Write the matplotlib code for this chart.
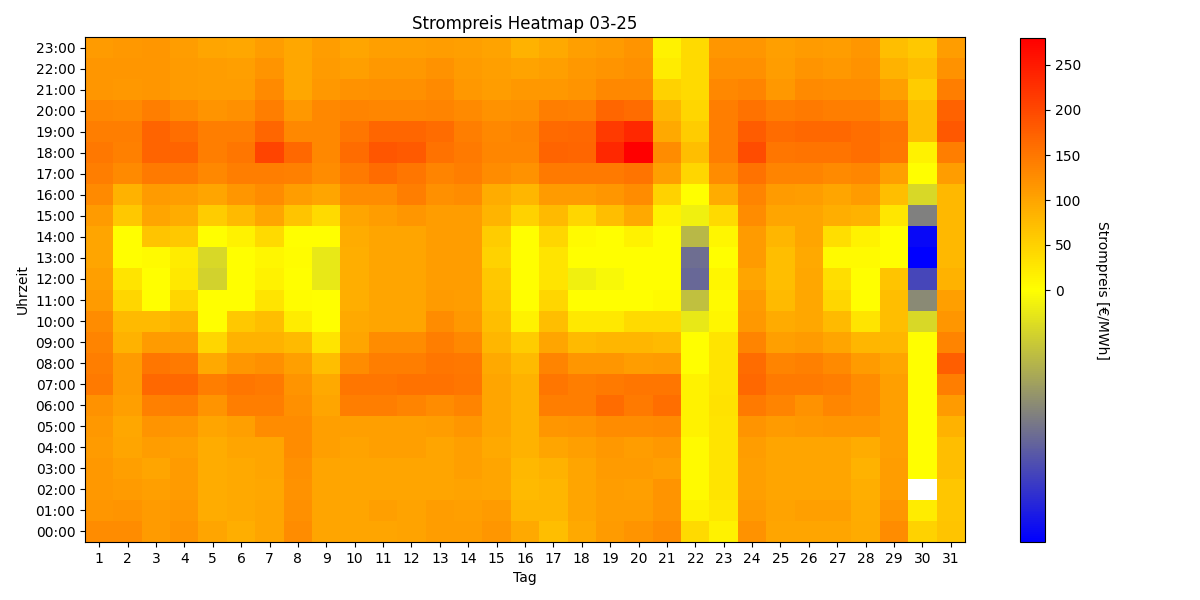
import numpy as np
import matplotlib
matplotlib.use("Agg")
import matplotlib.pyplot as plt
from matplotlib.colors import LinearSegmentedColormap, TwoSlopeNorm

nan = np.nan

# Strompreis [€/MWh] pro Stunde, Tage 1..31 (März 2025)
days = list(range(1, 32))
hours = [f"{h:02d}:00" for h in range(24)]

h00 = [125, 125, 110, 118, 100, 88, 100, 125, 100, 100, 100, 102, 108, 108, 115, 95, 70, 95, 110, 118, 125, 40, 15, 120, 100, 100, 100, 92, 125, 50, 65]
h01 = [115, 118, 110, 112, 90, 95, 100, 122, 100, 100, 105, 102, 108, 105, 110, 80, 80, 100, 108, 108, 118, 15, 25, 110, 102, 105, 105, 90, 115, 20, 62]
h02 = [112, 110, 107, 110, 90, 95, 98, 120, 100, 100, 100, 100, 100, 102, 100, 75, 80, 100, 108, 105, 118, 5, 30, 105, 100, 100, 100, 88, 108, nan, 62]
h03 = [112, 105, 100, 110, 90, 95, 100, 122, 100, 100, 100, 100, 100, 105, 100, 78, 85, 100, 110, 110, 105, 5, 30, 105, 100, 100, 100, 85, 108, 0, 70]
h04 = [110, 100, 108, 105, 90, 100, 100, 125, 105, 102, 105, 105, 100, 105, 95, 85, 100, 105, 112, 108, 112, 5, 30, 108, 100, 100, 100, 90, 105, 0, 70]
h05 = [112, 98, 118, 115, 100, 105, 125, 125, 105, 105, 105, 105, 108, 115, 100, 85, 115, 118, 125, 125, 128, 15, 30, 118, 110, 112, 115, 115, 105, 0, 85]
h06 = [120, 105, 138, 140, 118, 140, 140, 122, 100, 142, 142, 135, 125, 135, 100, 85, 140, 140, 160, 145, 158, 15, 32, 145, 135, 120, 132, 125, 105, 0, 110]
h07 = [145, 110, 165, 165, 140, 150, 145, 118, 95, 150, 150, 155, 155, 150, 100, 85, 150, 140, 145, 150, 150, 15, 30, 165, 145, 145, 140, 125, 105, 0, 142]
h08 = [140, 110, 150, 145, 95, 115, 122, 105, 70, 125, 140, 140, 150, 148, 95, 75, 135, 115, 115, 108, 110, 0, 30, 160, 135, 138, 128, 110, 100, 0, 175]
h09 = [135, 85, 110, 110, 45, 85, 85, 75, 30, 100, 125, 125, 140, 130, 80, 55, 100, 75, 80, 80, 75, 0, 30, 135, 105, 110, 100, 80, 80, 0, 135]
h10 = [125, 75, 75, 85, 0, 60, 70, 20, 2, 95, 100, 100, 125, 112, 70, 15, 70, 25, 25, 40, 40, -2.7, 10, 112, 92, 98, 75, 30, 70, -4.6, 115]
h11 = [110, 45, 2, 45, 0, 0, 30, 3, 0, 88, 100, 100, 110, 108, 65, 0, 45, 0, 0, 0, 5, -7.5, 5, 110, 75, 98, 45, 2, 70, -13.6, 105]
h12 = [105, 30, 2, 25, -5.2, 2, 15, 2, -2.7, 88, 100, 100, 108, 108, 60, 0, 30, -1.8, -0.9, 0, 0, -17.8, 10, 100, 72, 98, 35, 2, 65, -21.6, 85]
h13 = [100, 2, 5, 20, -4.6, 2, 10, 3, -2.7, 88, 100, 100, 108, 108, 50, 0, 30, 2, 2, 2, 0, -16.9, 0, 110, 70, 95, 5, 5, 2, -30, 78]
h14 = [100, 0, 65, 60, 0, 15, 40, 0, 0, 90, 100, 100, 108, 108, 55, 0, 45, 5, 2, 15, 0, -8.4, 10, 110, 80, 100, 35, 15, 0, -29, 78]
h15 = [110, 60, 100, 90, 55, 75, 100, 65, 40, 100, 108, 115, 108, 108, 82, 50, 75, 45, 70, 95, 15, -1.8, 40, 125, 100, 100, 88, 85, 28, -15, 78]
h16 = [128, 85, 110, 108, 100, 115, 125, 108, 100, 125, 125, 140, 122, 125, 90, 80, 110, 110, 115, 125, 50, 0, 90, 135, 110, 108, 100, 110, 70, -4.5, 78]
h17 = [140, 128, 145, 145, 130, 140, 140, 138, 125, 145, 160, 150, 135, 140, 125, 120, 145, 145, 145, 152, 105, 45, 125, 155, 135, 135, 128, 132, 105, 0, 108]
h18 = [148, 138, 170, 170, 140, 150, 205, 165, 130, 160, 185, 180, 155, 145, 132, 132, 170, 168, 235, 280, 125, 70, 142, 195, 150, 152, 152, 158, 148, 15, 140]
h19 = [140, 140, 170, 158, 140, 140, 168, 130, 130, 150, 168, 168, 160, 140, 130, 135, 162, 165, 215, 235, 95, 55, 140, 178, 160, 165, 165, 158, 150, 70, 182]
h20 = [130, 128, 140, 128, 118, 122, 140, 112, 130, 135, 132, 132, 135, 128, 120, 122, 140, 138, 168, 160, 80, 45, 140, 155, 140, 145, 140, 142, 125, 70, 172]
h21 = [115, 113, 115, 110, 108, 108, 128, 98, 112, 120, 122, 122, 128, 112, 108, 112, 112, 118, 130, 130, 50, 40, 130, 135, 112, 128, 125, 125, 105, 55, 140]
h22 = [115, 115, 115, 110, 108, 105, 118, 98, 110, 105, 112, 112, 120, 110, 105, 102, 105, 112, 118, 122, 20, 40, 122, 122, 108, 118, 112, 120, 85, 70, 120]
h23 = [110, 112, 115, 108, 100, 97, 108, 98, 108, 100, 105, 105, 108, 105, 102, 85, 95, 105, 110, 118, 15, 40, 115, 115, 105, 110, 108, 115, 70, 60, 108]

data = np.array([h00, h01, h02, h03, h04, h05, h06, h07, h08, h09, h10, h11,
                 h12, h13, h14, h15, h16, h17, h18, h19, h20, h21, h22, h23], dtype=float)

vmin = np.nanmin(data)
vmax = np.nanmax(data)
orange_pos = 0.5 + 0.5 * 100 / vmax
cmap = LinearSegmentedColormap.from_list(
    "strom", [(0.0, "blue"), (0.25, "gray"), (0.5, "yellow"), (orange_pos, "orange"), (1.0, "red")])
norm = TwoSlopeNorm(vmin=vmin, vcenter=0, vmax=vmax)

fig = plt.figure(figsize=(12, 6), dpi=100)
ax = fig.add_axes([85 / 1200, 1 - 542 / 600, 880 / 1200, 505 / 600])
cax = fig.add_axes([1020 / 1200, 1 - 542 / 600, 25 / 1200, 504 / 600])

im = ax.imshow(data, origin="lower", aspect="auto", cmap=cmap, norm=norm,
               interpolation="nearest")
ax.set_xticks(np.arange(len(days)))
ax.set_xticklabels(days)
ax.set_yticks(np.arange(len(hours)))
ax.set_yticklabels(hours)
ax.set_xlabel("Tag")
ax.set_ylabel("Uhrzeit")
ax.set_title("Strompreis Heatmap 03-25")

cbar = fig.colorbar(im, cax=cax)
cbar.set_label("Strompreis [€/MWh]", rotation=270, labelpad=20)

fig.savefig("out.png", dpi=100)
